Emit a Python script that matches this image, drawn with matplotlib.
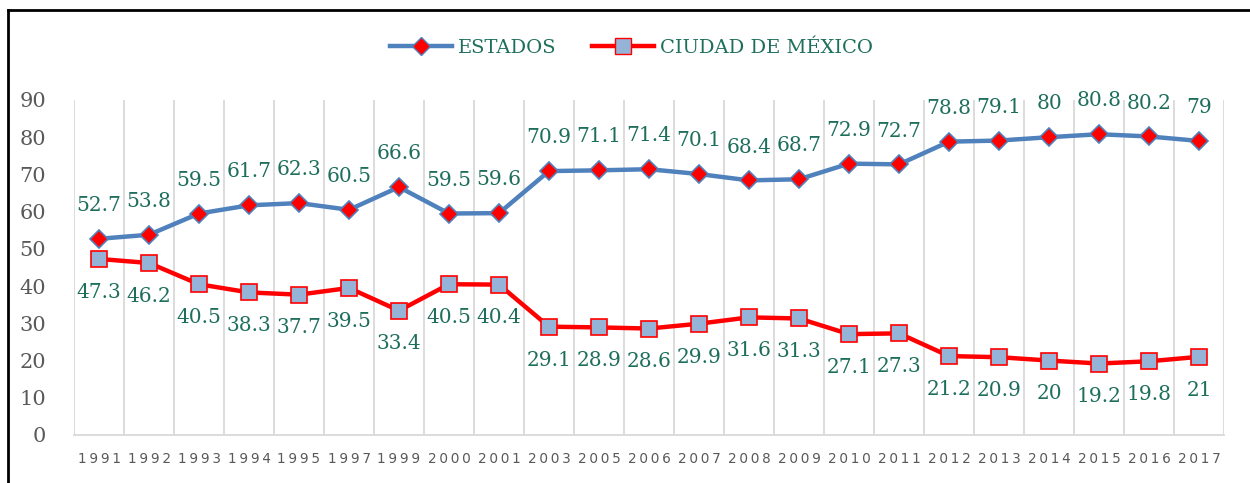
import matplotlib.pyplot as plt
from matplotlib.lines import Line2D

years = ["1991", "1992", "1993", "1994", "1995", "1997", "1999", "2000", "2001",
         "2003", "2005", "2006", "2007", "2008", "2009", "2010", "2011", "2012",
         "2013", "2014", "2015", "2016", "2017"]
estados = [52.7, 53.8, 59.5, 61.7, 62.3, 60.5, 66.6, 59.5, 59.6, 70.9, 71.1, 71.4,
           70.1, 68.4, 68.7, 72.9, 72.7, 78.8, 79.1, 80, 80.8, 80.2, 79]
cdmx = [47.3, 46.2, 40.5, 38.3, 37.7, 39.5, 33.4, 40.5, 40.4, 29.1, 28.9, 28.6,
        29.9, 31.6, 31.3, 27.1, 27.3, 21.2, 20.9, 20, 19.2, 19.8, 21]
yticks = [0, 10, 20, 30, 40, 50, 60, 70, 80, 90]

teal = '#1E6E5C'
blue = '#4F81BD'
serif = ['DejaVu Serif']

fig = plt.figure(figsize=(12.5, 4.83), dpi=100)
ax = fig.add_axes([0.0592, 0.0994, 0.92, 0.6936])

x = list(range(len(years)))
ax.plot(x, estados, color=blue, lw=3.2, marker='D', markersize=9,
        markerfacecolor='red', markeredgecolor=blue, markeredgewidth=1.2, zorder=3)
ax.plot(x, cdmx, color='red', lw=3.2, marker='s', markersize=11,
        markerfacecolor='#95B3D7', markeredgecolor='red', markeredgewidth=1.2, zorder=3)

for i in x:
    ax.annotate(f"{estados[i]:g}", (i, estados[i]), xytext=(0, 24), textcoords='offset points',
                ha='center', va='center', color=teal, fontsize=14.5, family=serif)
    ax.annotate(f"{cdmx[i]:g}", (i, cdmx[i]), xytext=(0, -24), textcoords='offset points',
                ha='center', va='center', color=teal, fontsize=14.5, family=serif)

ax.set_xlim(-0.5, len(years) - 0.5)
ax.set_ylim(0, 90)
ax.set_yticks(yticks)
ax.set_yticklabels([str(v) for v in yticks], color='#595959', fontsize=15, family=serif)
ax.set_xticks(x)
# spaced digits like the original condensed font
ax.set_xticklabels(["\u2009".join(y) for y in years], color='#595959', fontsize=9.8,
                   family=['DejaVu Sans'])
ax.tick_params(length=0, pad=12)
ax.tick_params(axis='y', pad=20)

# vertical gridlines between categories
for b in range(len(years) + 1):
    ax.axvline(b - 0.5, color='#D9D9D9', lw=1.3, zorder=1)
for s in ['top', 'right', 'left']:
    ax.spines[s].set_visible(False)
ax.spines['bottom'].set_color('#D9D9D9')
ax.spines['bottom'].set_linewidth(1.3)

handles = [
    Line2D([], [], color=blue, lw=3.2, marker='D', markersize=9, markerfacecolor='red',
           markeredgecolor=blue),
    Line2D([], [], color='red', lw=3.2, marker='s', markersize=11, markerfacecolor='#95B3D7',
           markeredgecolor='red'),
]
leg = fig.legend(handles, ["ESTADOS", "CIUDAD DE MÉXICO"], loc='center', ncol=2,
                 bbox_to_anchor=(0.505, 0.9), frameon=False, handlelength=3.2,
                 columnspacing=1.8, handletextpad=0.3,
                 prop={'family': serif, 'size': 14})
for t in leg.get_texts():
    t.set_color(teal)

# frame lines (left and top)
fig.add_artist(Line2D([0.006, 0.006], [0, 0.979], color='black', lw=2))
fig.add_artist(Line2D([0.006, 1.0], [0.979, 0.979], color='black', lw=2))

fig.savefig('out.png', dpi=100)
